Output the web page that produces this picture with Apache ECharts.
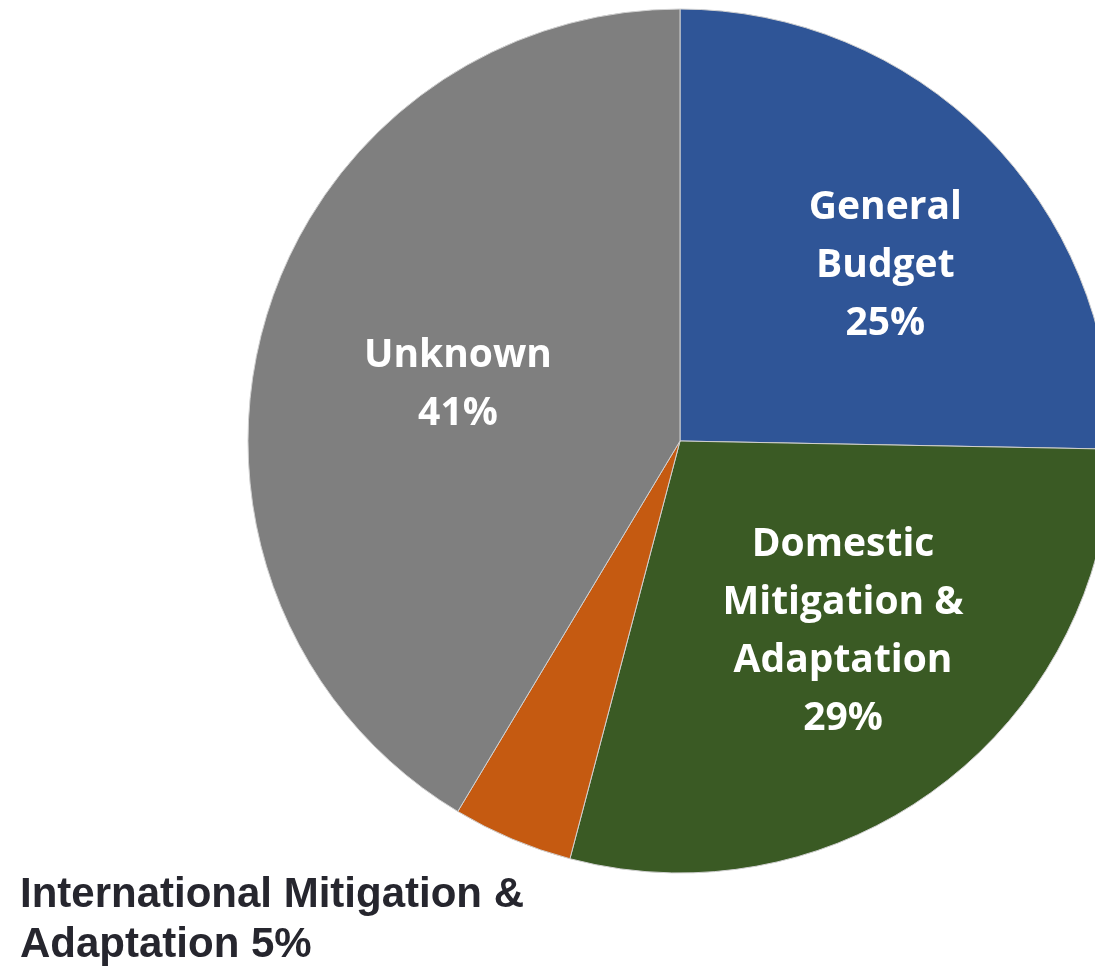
<!DOCTYPE html>
<html>
<head>
<meta charset="utf-8">
<script src="https://cdn.jsdelivr.net/npm/echarts@6/dist/echarts.min.js"></script>
<style>html,body{margin:0;padding:0;background:#fff}#c{width:1095px;height:966px}</style>
</head>
<body>
<div id="c"></div>
<script>
const categories = ['General\nBudget', 'Domestic\nMitigation &\nAdaptation', 'International Mitigation &\nAdaptation', 'Unknown'];
const values = [25.3, 28.8, 4.5, 41.4];
const colors = ['#2F5597', '#3A5A24', '#C55A11', '#7F7F7F'];

const chart = echarts.init(document.getElementById('c'), null, {renderer: 'canvas'});
const insideOffsets = {0: [49, -22], 1: [31, 16], 3: [-11, 2]};
chart.setOption({
  animation: false,
  series: [{
    type: 'pie',
    center: [680, 441],
    radius: 432,
    startAngle: 90,
    clockwise: true,
    avoidLabelOverlap: false,
    itemStyle: {borderColor: '#d0d0d0', borderWidth: 1},
    label: {
      position: 'inside',
      color: '#fff',
      fontFamily: 'Open Sans',
      fontWeight: 'bold',
      fontSize: 39,
      lineHeight: 58,
      align: 'center',
      formatter: p => p.name + (p.dataIndex === 2 ? ' ' : '\n') + Math.round(p.percent) + '%'
    },
    labelLine: {show: false},
    labelLayout: function (params) {
      if (params.dataIndex === 2) {
        return {x: 20, y: 920, align: 'left', verticalAlign: 'middle'};
      }
      const o = insideOffsets[params.dataIndex] || [0, 0];
      return {dx: o[0], dy: o[1]};
    },
    data: categories.map((n, i) => {
      const d = {name: n, value: values[i], itemStyle: {color: colors[i]}};
      if (i === 2) {
        d.label = {color: '#26262e', fontFamily: 'Liberation Sans', fontSize: 42, lineHeight: 50, align: 'left'};
      }
      return d;
    })
  }]
});
</script>
</body>
</html>
